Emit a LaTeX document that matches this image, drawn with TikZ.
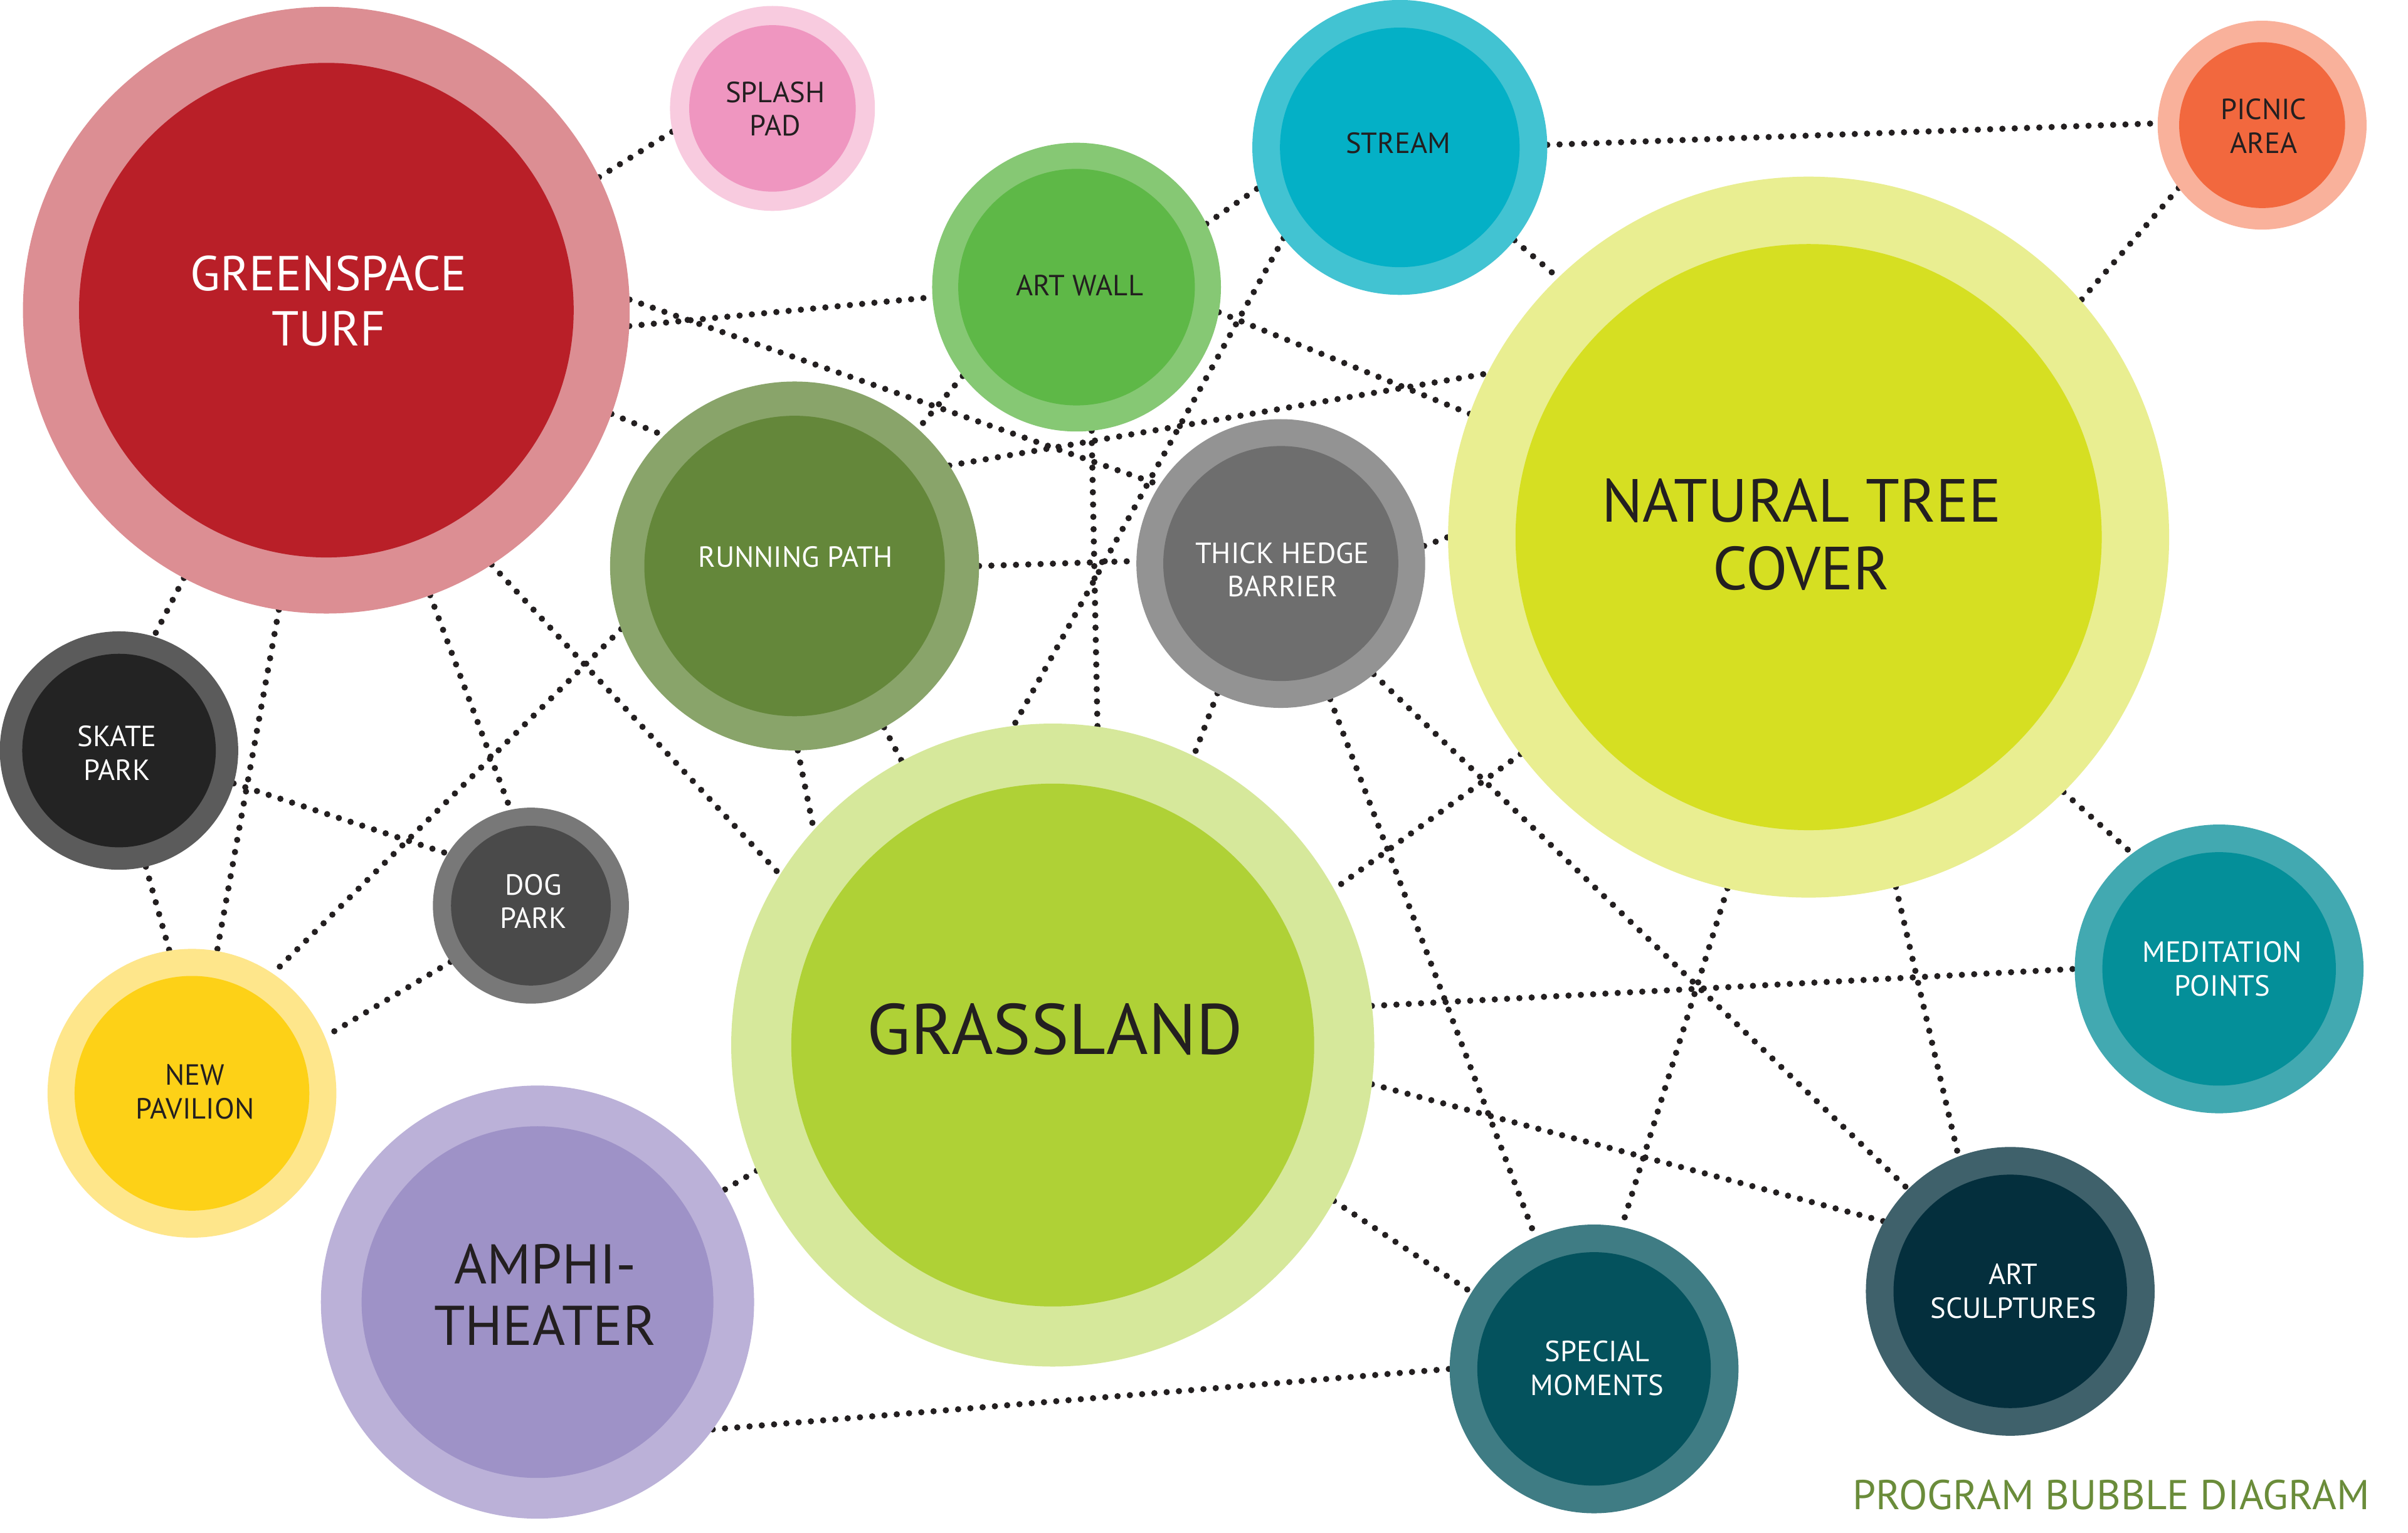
\documentclass[tikz,border=0pt]{standalone}
\usepackage{fontspec}
\setmainfont{PT Sans}
\definecolor{dotc}{HTML}{231F20}
\definecolor{darktxt}{HTML}{231F20}
\definecolor{titlec}{HTML}{6A8C3A}
\definecolor{gtO}{HTML}{DC8E93}\definecolor{gtI}{HTML}{B91F28}
\definecolor{spO}{HTML}{F8CBDF}\definecolor{spI}{HTML}{EF96C0}
\definecolor{awO}{HTML}{86C874}\definecolor{awI}{HTML}{5EB847}
\definecolor{stO}{HTML}{42C3D2}\definecolor{stI}{HTML}{04B0C6}
\definecolor{paO}{HTML}{F9B19B}\definecolor{paI}{HTML}{F2683E}
\definecolor{ntO}{HTML}{E9EE91}\definecolor{ntI}{HTML}{D6DF22}
\definecolor{rpO}{HTML}{89A46A}\definecolor{rpI}{HTML}{64873A}
\definecolor{thO}{HTML}{939393}\definecolor{thI}{HTML}{6E6E6E}
\definecolor{skO}{HTML}{5B5B5B}\definecolor{skI}{HTML}{232323}
\definecolor{dpO}{HTML}{787878}\definecolor{dpI}{HTML}{4A4A4A}
\definecolor{npO}{HTML}{FEE68B}\definecolor{npI}{HTML}{FDD117}
\definecolor{glO}{HTML}{D6E89B}\definecolor{glI}{HTML}{AFD136}
\definecolor{amO}{HTML}{BBB1D8}\definecolor{amI}{HTML}{9E92C7}
\definecolor{mpO}{HTML}{42A9B1}\definecolor{mpI}{HTML}{048F99}
\definecolor{smO}{HTML}{3F7C84}\definecolor{smI}{HTML}{04525D}
\definecolor{asO}{HTML}{3F616B}\definecolor{asI}{HTML}{042F3D}
\pgfdeclarelayer{bg}
\pgfsetlayers{bg,main}
\newcommand\fntS{\fontsize{13.5pt}{15.6pt}\selectfont}
\newcommand\fntTurf{\fontsize{22.7pt}{25.6pt}\selectfont}
\newcommand\fntTree{\fontsize{28.2pt}{31.3pt}\selectfont}
\newcommand\fntGrass{\fontsize{33.1pt}{36pt}\selectfont}
\newcommand\fntAmph{\fontsize{25.9pt}{28.5pt}\selectfont}
\newcommand\fntTitle{\fontsize{19.3pt}{21pt}\selectfont}
\tikzset{
  ring/.style={circle, inner sep=0pt, outer sep=0pt, minimum size={#1*0.05cm}},
  lbl/.style={align=center, inner sep=0pt, outer sep=0pt},
  lbllight/.style={lbl, text=darktxt},
  lbldark/.style={lbl, text=white},
  link/.style={draw=dotc, line width=2.9pt, line cap=round, dash pattern=on 0pt off 5.7pt},
}
\begin{document}
\begin{tikzpicture}[x=0.025cm,y=-0.025cm]
\useasboundingbox (0,0) rectangle (1568,998);
% bubbles: outer ring, inner disc, label
\node[ring=197.5, fill=gtO] (gt) at (212.5,202) {};
\node[ring=161, fill=gtI] (gti) at (gt) {};
\node[lbldark, font=\fntTurf] (gtt) at (214,196) {GREENSPACE\\TURF};

\node[ring=66.7, fill=spO] (sp) at (503,70.6) {};
\node[ring=54.2, fill=spI] (spi) at (sp) {};
\node[lbllight, font=\fntS] (spt) at (504.8,70.9) {SPLASH\\PAD};

\node[ring=94, fill=awO] (aw) at (701,187) {};
\node[ring=77, fill=awI] (awi) at (aw) {};
\node[lbllight, font=\fntS] (awt) at (703,186) {ART WALL};

\node[ring=96, fill=stO] (st) at (911.5,96) {};
\node[ring=78, fill=stI] (sti) at (st) {};
\node[lbllight, font=\fntS] (stt) at (910.5,93) {STREAM};

\node[ring=68, fill=paO] (pa) at (1473,81.5) {};
\node[ring=54, fill=paI] (pai) at (pa) {};
\node[lbllight, font=\fntS] (pat) at (1474,82) {PICNIC\\AREA};

\node[ring=234.7, fill=ntO] (ntc) at (1177.7,349.8) {};
\node[ring=190.8, fill=ntI] (ntci) at (ntc) {};
\node[lbllight, font=\fntTree] (ntct) at (1173,348) {NATURAL TREE\\COVER};

\node[ring=120.1, fill=rpO] (rp) at (517.4,368.6) {};
\node[ring=97.8, fill=rpI] (rpi) at (rp) {};
\node[lbldark, font=\fntS] (rpt) at (518,362.6) {RUNNING PATH};

\node[ring=94, fill=thO] (th) at (834,367) {};
\node[ring=76.5, fill=thI] (thi) at (th) {};
\node[lbldark, font=\fntS] (tht) at (835,371) {THICK HEDGE\\BARRIER};

\node[ring=77.6, fill=skO] (sk) at (77.5,488.8) {};
\node[ring=63, fill=skI] (ski) at (sk) {};
\node[lbldark, font=\fntS] (skt) at (76.2,490.4) {SKATE\\PARK};

\node[ring=63.8, fill=dpO] (dp) at (345.7,589.8) {};
\node[ring=52, fill=dpI] (dpi) at (dp) {};
\node[lbldark, font=\fntS] (dpt) at (347.4,587) {DOG\\PARK};

\node[ring=94, fill=npO] (np) at (125,712) {};
\node[ring=76.4, fill=npI] (npi) at (np) {};
\node[lbllight, font=\fntS] (npt) at (127,711) {NEW\\PAVILION};

\node[ring=209.3, fill=glO] (gl) at (685.5,680.6) {};
\node[ring=170.2, fill=glI] (gli) at (gl) {};
\node[lbllight, font=\fntGrass] (glt) at (687,670.5) {GRASSLAND};

\node[ring=141, fill=amO] (am) at (350,848) {};
\node[ring=114.5, fill=amI] (ami) at (am) {};
\node[lbllight, font=\fntAmph] (amt) at (355,843) {AMPHI-\\THEATER};

\node[ring=94, fill=mpO] (mp) at (1445,631) {};
\node[ring=76, fill=mpI] (mpi) at (mp) {};
\node[lbldark, font=\fntS] (mpt) at (1447,631) {MEDITATION\\POINTS};

\node[ring=94, fill=smO] (sm) at (1038,891.5) {};
\node[ring=76, fill=smI] (smi) at (sm) {};
\node[lbldark, font=\fntS] (smt) at (1040,891) {SPECIAL\\MOMENTS};

\node[ring=94, fill=asO] (as) at (1309,841) {};
\node[ring=76, fill=asI] (asi) at (as) {};
\node[lbldark, font=\fntS] (ast) at (1311,841) {ART\\SCULPTURES};

\node[lbl, anchor=east, text=titlec, font=\fntTitle] (title) at (1543,973.4) {PROGRAM BUBBLE DIAGRAM};

\begin{pgfonlayer}{bg}
\fill[white] (0,0) rectangle (1568,998);
\draw[link] (gt.26.3) -- (sp.193);
\draw[link] (gt.-3.8) -- (aw.184.3);
\draw[link] (gt.2.9) -- (th.147.4);
\draw[link] (gt.-20) -- (rp.135.6);
\draw[link] (gt.-118.2) -- (sk.73.9);
\draw[link] (gt.-99.1) -- (np.80.3);
\draw[link] (gt.-70.4) -- (dp.102.1);
\draw[link] (gt.-57.9) -- (gl.148.6);
\draw[link] (sk.-16.4) -- (dp.148.3);
\draw[link] (sk.-77.9) -- (np.99.4);
\draw[link] (dp.215.8) -- (np.23);
\draw[link] (rp.200.7) -- (np.56);
\draw[link] (rp.0.7) -- (th.179.4);
\draw[link] (rp.-89.7) -- (gl.138.2);
\draw[link] (rp.-61.3) -- (gl.118.4);
\draw[link] (rp.33.6) -- (ntc.153.2);
\draw[link] (aw.218.4) -- (rp.48.5);
\draw[link] (aw.26) -- (st.196.6);
\draw[link] (aw.-84.5) -- (gl.82.1);
\draw[link] (aw.-10.3) -- (ntc.160.3);
\draw[link] (st.218.3) -- (gl.97.8);
\draw[link] (st.-39.9) -- (ntc.134.1);
\draw[link] (st.1.7) -- (pa.179.6);
\draw[link] (pa.217.2) -- (ntc.41.9);
\draw[link] (th.7.1) -- (ntc.180.5);
\draw[link] (th.-116.9) -- (gl.64.5);
\draw[link] (th.-70.7) -- (sm.114.7);
\draw[link] (th.-50.7) -- (as.135);
\draw[link] (ntc.217.5) -- (gl.29.3);
\draw[link] (ntc.-103.4) -- (sm.79.1);
\draw[link] (ntc.-76.4) -- (as.111.1);
\draw[link] (ntc.-45.7) -- (mp.127.7);
\draw[link] (gl.7.8) -- (mp.180.6);
\draw[link] (gl.-7.8) -- (as.151.1);
\draw[link] (gl.-29.6) -- (sm.148.3);
\draw[link] (gl.203.5) -- (am.31);
\draw[link] (am.-36.3) -- (sm.180.6);
\end{pgfonlayer}
\end{tikzpicture}
\end{document}
